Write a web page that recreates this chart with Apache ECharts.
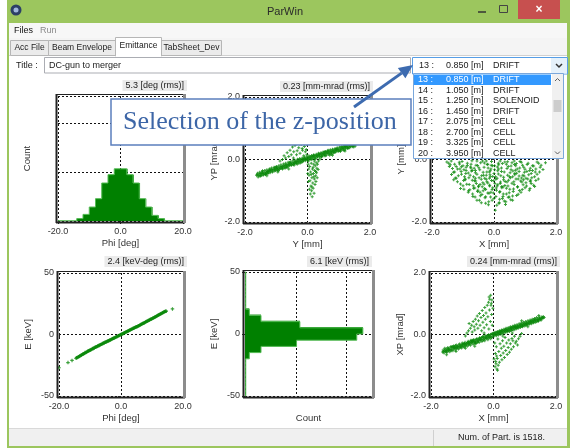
<!DOCTYPE html>
<html>
<head>
<meta charset="utf-8">
<title>ParWin</title>
<script src="https://cdn.jsdelivr.net/npm/echarts@6/dist/echarts.min.js"></script>
<style>
html,body{margin:0;padding:0;background:#ffffff;}
#main{width:570px;height:448px;}
</style>
</head>
<body>
<div id="main"></div>
<script>
// ---------- particle distribution data ----------
// Phase histogram: bin edges [deg] and counts
const phiEdges = [-20,-18,-16,-14,-12,-10,-8,-6,-4,-2,0,2,4,6,8,10,12,14,16,18,20];
const phiCounts = [1,1,1,10,27,57,91,155,189,213,213,189,155,91,57,23,10,1,1,1];

// Energy histogram: bin edges [keV] and counts
const eEdges = [-50,-45,-40,-35,-30,-25,-20,-15,-10,-5,0,5,10,15,20,25,30,35,40,45,50];
const eCounts = [3,3,3,3,3,3,17,63,203,440,464,216,63,17,3,3,3,3,3,3];

// Y - YP phase space [mm, mrad]
const yypCore = [
[-1.63,-0.5],[-1.6,-0.44],[-1.58,-0.56],[-1.55,-0.47],[-1.53,-0.41],[-1.5,-0.53],[-1.47,-0.45],[-1.45,-0.38],[-1.42,-0.5],[-1.4,-0.43],
[-1.37,-0.35],[-1.35,-0.48],[-1.32,-0.41],[-1.3,-0.33],[-1.27,-0.45],[-1.25,-0.37],[-1.22,-0.3],[-1.2,-0.42],[-1.17,-0.35],[-1.15,-0.27],
[-1.12,-0.4],[-1.1,-0.32],[-1.07,-0.25],[-1.05,-0.37],[-1.02,-0.3],[-1.0,-0.22],[-0.97,-0.34],[-0.95,-0.27],[-0.92,-0.2],[-0.9,-0.32],
[-0.87,-0.24],[-0.85,-0.17],[-0.82,-0.29],[-0.8,-0.22],[-0.77,-0.14],[-0.75,-0.27],[-0.72,-0.19],[-0.7,-0.12],[-0.67,-0.24],[-0.65,-0.17],
[-0.62,-0.09],[-0.6,-0.21],[-0.57,-0.14],[-0.55,-0.07],[-0.52,-0.19],[-0.5,-0.11],[-0.47,-0.04],[-0.45,-0.16],[-0.42,-0.09],[-0.4,-0.02],
[-0.37,-0.13],[-0.35,-0.06],[-0.32,0.01],[-0.3,-0.11],[-0.27,-0.04],[-0.25,0.03],[-0.22,-0.08],[-0.2,-0.01],[-0.17,0.05],[-0.15,-0.06],
[-0.12,0.01],[-0.1,0.07],[-0.07,-0.04],[-0.05,0.03],[-0.02,0.09],[0.0,-0.02],[0.03,0.05],[0.05,0.11],[0.08,0.0],[0.1,0.07],
[0.13,0.13],[0.15,0.02],[0.18,0.09],[0.2,0.15],[0.23,0.04],[0.25,0.11],[0.28,0.17],[0.3,0.06],[0.33,0.13],[0.35,0.2],
[0.38,0.08],[0.4,0.15],[0.43,0.22],[0.45,0.1],[0.48,0.17],[0.5,0.24],[0.53,0.12],[0.55,0.19],[0.58,0.26],[0.6,0.14],
[0.63,0.22],[0.65,0.28],[0.68,0.17],[0.7,0.24],[0.73,0.31],[0.75,0.19],[0.78,0.26],[0.8,0.33],[0.83,0.21],[0.85,0.29],
[0.88,0.35],[0.9,0.24],[0.93,0.31],[0.95,0.38],[0.98,0.26],[1.0,0.33],[1.03,0.4],[1.05,0.29],[1.08,0.36],[1.1,0.42],
[1.13,0.31],[1.15,0.38],[1.18,0.45],[1.2,0.33],[1.23,0.41],[1.25,0.47],[1.28,0.36],[1.3,0.43],[1.33,0.49],[1.35,0.38],
[1.38,0.46],[1.4,0.52],[1.43,0.41],[1.45,0.48],[1.48,0.44],[1.5,0.5],[1.53,0.43],
[-1.61,-0.49],[-1.56,-0.52],[-1.51,-0.45],[-1.48,-0.5],[-1.44,-0.43],[-1.41,-0.47],[-1.36,-0.42],[-1.33,-0.45],[-1.29,-0.38],[-1.26,-0.42],
[-1.21,-0.35],[-1.18,-0.39],[-1.14,-0.32],[-1.11,-0.37],[-1.06,-0.3],[-1.03,-0.35],[-0.99,-0.28],[-0.96,-0.31],[-0.91,-0.26],[-0.88,-0.29],
[-0.84,-0.22],[-0.81,-0.26],[-0.76,-0.2],[-0.73,-0.24],[-0.69,-0.17],[-0.66,-0.21],[-0.61,-0.15],[-0.58,-0.18],[-0.54,-0.12],[-0.51,-0.16],
[-0.46,-0.1],[-0.43,-0.13],[-0.39,-0.07],[-0.36,-0.1],[-0.31,-0.05],[-0.28,-0.08],[-0.24,-0.01],[-0.21,-0.05],[-0.16,0.01],[-0.13,-0.02],
[-0.09,0.03],[-0.06,0.0],[-0.01,0.05],[0.02,0.02],[0.06,0.08],[0.09,0.04],[0.14,0.1],[0.17,0.06],[0.21,0.12],[0.24,0.08],
[0.29,0.14],[0.32,0.1],[0.36,0.17],[0.39,0.12],[0.44,0.19],[0.47,0.14],[0.51,0.21],[0.54,0.16],[0.59,0.23],[0.62,0.19],
[0.66,0.25],[0.69,0.21],[0.74,0.27],[0.77,0.23],[0.81,0.3],[0.84,0.25],[0.89,0.32],[0.92,0.28],[0.96,0.34],[0.99,0.3],
[1.04,0.37],[1.07,0.32],[1.11,0.39],[1.14,0.35],[1.19,0.41],[1.22,0.37],[1.26,0.44],[1.29,0.39],[1.34,0.46],[1.37,0.42],
[1.41,0.48],[1.44,0.44],[1.49,0.47],[1.52,0.49],[-1.3,-0.52],[-0.95,-0.4],[-0.6,-0.3],[0.4,0.02],[0.8,0.14],[1.2,0.27],
[-1.34,-0.47],[-0.71,-0.27],[0.57,0.12],[1.21,0.41],[-1.05,-0.26],[0.12,0.0],[0.93,0.33],[-0.43,-0.18],[-1.52,-0.52],[0.38,0.17],
[1.42,0.51],[-0.18,-0.09],[0.76,0.17],[-0.93,-0.36],[-1.2,-0.31],[1.05,0.26],[0.25,0.02],[-0.57,-0.1],[-0.33,-0.15],[0.66,0.3],
[1.3,0.36],[-1.44,-0.36],[0.03,-0.05],[-0.8,-0.3],[0.45,0.08],[0.87,0.23],[-0.12,-0.01],[1.17,0.29],[-0.65,-0.25],[-1.27,-0.38],
[0.19,0.13],[0.55,0.25],[-0.24,-0.12],[1.48,0.4],[-0.99,-0.24],[0.71,0.14]
];
const yypTail = [
[0.02,-0.15],[0.04,-0.3],[0.05,-0.5],[0.07,-0.22],[0.08,-0.68],[0.1,-0.4],[0.11,-0.85],[0.12,-0.12],[0.13,-1.0],[0.14,-0.58],
[0.15,-1.19],[0.16,-0.3],[0.17,-0.75],[0.18,-0.92],[0.19,-0.45],[0.2,-0.15],[0.21,-1.08],[0.22,-0.62],[0.23,-0.35],[0.24,-0.8],
[0.25,-0.2],[0.26,-0.52],[0.27,-0.7],[0.28,-0.1],[0.29,-0.42],[0.3,-0.28],[0.31,-0.58],[0.32,-0.15],[0.06,-0.95],[0.09,-1.1],
[0.03,-0.7],[0.12,-0.48],[0.18,-0.25],[0.22,-0.05],[0.26,-0.38],[0.01,-0.45],[0.35,-0.05],[0.34,-0.32],[0.14,-0.88],[0.2,-0.55],
[-0.02,0.15],[-0.04,0.32],[-0.05,0.55],[-0.07,0.25],[-0.08,0.72],[-0.1,0.42],[-0.11,0.9],[-0.12,0.12],[-0.13,1.05],[-0.14,0.6],
[-0.15,1.2],[-0.16,0.3],[-0.18,0.78],[-0.2,0.48],[-0.22,0.95],[-0.24,0.2],[-0.26,0.65],[-0.28,0.38],[-0.3,0.82],[-0.33,0.28],
[-0.36,0.55],[-0.4,0.45],[-0.44,0.25],[-0.48,0.4],[-0.52,0.15],[-0.56,0.3],[-0.6,0.1],[-0.65,0.22],[-0.7,0.05],[-0.75,0.12],
[-0.8,0.0],[-0.88,-0.05],[-0.05,0.85],[-0.09,1.12],[-0.17,0.35],[-0.25,0.5],[-0.35,0.15],[-0.45,0.05],[-0.02,0.48],[-0.19,0.62]
];

// X - Y beam cross section [mm]
const xyPoints = [
[-1.52,-0.08],[-1.44,-0.22],[-1.38,-0.05],[-1.31,-0.41],[-1.27,-0.15],[-1.22,-0.6],[-1.18,-0.3],[-1.12,-0.09],[-1.08,-0.78],[-1.05,-0.47],
[-1.0,-0.2],[-0.97,-0.95],[-0.93,-0.62],[-0.9,-0.35],[-0.86,-0.12],[-0.83,-1.05],[-0.8,-0.8],[-0.77,-0.5],[-0.74,-0.27],[-0.71,-0.04],
[-0.68,-1.18],[-0.66,-0.92],[-0.63,-0.68],[-0.6,-0.42],[-0.58,-0.18],[-0.55,-1.3],[-0.53,-1.02],[-0.5,-0.85],[-0.48,-0.58],[-0.46,-0.33],
[-0.43,-0.1],[-0.41,-1.38],[-0.39,-1.12],[-0.36,-0.74],[-0.34,-0.5],[-0.32,-0.25],[-0.29,-1.22],[-0.27,-0.96],[-0.25,-0.63],[-0.23,-0.4],
[-0.2,-0.15],[-0.18,-1.45],[-0.16,-1.08],[-0.14,-0.82],[-0.12,-0.55],[-0.1,-0.3],[-0.08,-0.06],[-0.06,-1.3],[-0.04,-0.9],[-0.02,-0.68],
[0.0,-0.45],[0.02,-0.2],[0.04,-1.62],[0.06,-1.18],[0.08,-0.98],[0.1,-0.6],[0.12,-0.36],[0.14,-0.12],[0.16,-1.4],[0.18,-1.05],
[0.2,-0.77],[0.22,-0.52],[0.24,-0.27],[0.27,-1.25],[0.29,-0.88],[0.31,-0.65],[0.33,-0.4],[0.35,-0.08],[0.38,-1.35],[0.4,-1.1],
[0.42,-0.72],[0.44,-0.5],[0.46,-0.22],[0.49,-1.2],[0.51,-0.95],[0.53,-0.58],[0.55,-0.33],[0.58,-0.1],[0.6,-1.3],[0.62,-1.02],
[0.65,-0.8],[0.67,-0.45],[0.7,-0.2],[0.73,-1.15],[0.76,-0.88],[0.78,-0.62],[0.81,-0.38],[0.84,-0.06],[0.87,-1.05],[0.9,-0.72],
[0.93,-0.5],[0.96,-0.25],[1.0,-0.9],[1.03,-0.6],[1.06,-0.38],[1.1,-0.12],[1.14,-0.98],[1.17,-0.7],[1.2,-0.45],[1.24,-0.2],
[1.28,-0.82],[1.31,-0.55],[1.35,-0.3],[1.39,-0.08],[1.43,-0.62],[1.47,-0.4],[1.52,-0.18],[1.58,-0.32],[1.66,-0.1],
[-0.3,-0.6],[-0.15,-0.4],[0.05,-0.55],[0.15,-0.3],[-0.05,-0.2],[0.25,-0.9],[-0.2,-0.75],[0.1,-0.85],[-0.45,-0.8],[0.45,-0.85],
[-0.6,-0.6],[0.6,-0.55],[-0.1,-1.05],[0.3,-1.1],[-0.35,-1.0],[0.0,-1.25],[-0.7,-0.35],[0.75,-0.3],[-0.95,-0.55],[0.95,-0.65],
[-1.1,-0.3],[1.15,-0.35],[-0.25,-0.05],[0.4,-0.15],[-0.55,-0.05],[0.65,-0.05],[0.2,-0.05],[-0.9,-0.25],
[-1.41,-0.17],[-0.62,-0.91],[0.73,-0.44],[0.18,-1.27],[-0.97,-0.33],[1.22,-0.58],[0.44,-0.07],[-0.27,-1.19],[0.91,-0.96],[-1.18,-0.71],
[0.06,-0.63],[-0.49,-0.26],[1.49,-0.25],[-0.81,-0.58],[0.37,-1.44],[-0.13,-0.49],[1.07,-0.16],[-0.38,-0.87],[0.58,-0.76],[-1.03,-0.06],
[0.24,-0.38],[-0.69,-1.1],[0.83,-0.27],[-0.06,-0.96],[1.31,-0.86],[-1.27,-0.4],[0.49,-1.06],[-0.31,-0.11],[0.12,-0.81],[-0.88,-0.79],
[0.66,-0.16],[-0.55,-0.47],[1.16,-0.93],[-0.17,-1.35],[0.31,-0.57],[-1.34,-0.29],[0.97,-0.53],[-0.44,-1.16],[0.02,-0.33],[-0.74,-0.15],
[0.54,-1.29],[-0.23,-0.71],[1.39,-0.47],[-1.08,-0.93],[0.42,-0.29],[-0.59,-0.69],[0.78,-1.11],[-0.09,-0.18],[0.19,-1.02],[-0.91,-0.45],
[1.03,-0.74],[-0.35,-0.41],[0.63,-0.94],[-1.46,-0.12],[0.27,-0.13],[-0.67,-0.84],[0.88,-0.09],[-0.14,-0.85],[1.24,-0.35],[-0.82,-1.0],
[0.09,-1.46],[-0.52,-0.98],[0.71,-0.62],[-1.15,-0.52],[0.35,-0.83],[-0.04,-0.54],[1.12,-0.49],[-0.73,-0.37],[0.52,-0.42],[-0.3,-0.93],
[0.94,-0.81],[-1.22,-0.22],[0.15,-0.17],[-0.47,-1.3],[1.35,-0.67],[-0.98,-0.67],[0.6,-1.17],[-0.19,-0.27],[0.81,-0.53],[-0.64,-0.28],
[0.29,-1.18],[-1.37,-0.48],[1.0,-0.31],[-0.41,-0.63],[0.47,-0.66],[-0.11,-1.2],[0.69,-0.34],[-0.86,-0.19],[1.2,-0.77],[-0.57,-0.77],
[0.21,-0.72],[-1.0,-0.84],[0.86,-0.69],[-0.25,-0.5],[1.44,-0.12],[-0.78,-0.97],[0.4,-0.92],[0.03,-0.77],[-0.66,-0.55],[1.09,-0.62],
[-0.37,-0.05],[0.76,-0.87],[-1.11,-0.14],[0.55,-0.21],[-0.2,-1.07],[0.98,-0.41],[-0.53,-0.19],[0.14,-0.46],[-0.93,-0.65],[1.28,-0.21],
[-0.08,-0.67],[0.33,-1.33],[-0.7,-0.66],[0.67,-0.49],[-0.45,-1.05],[1.17,-0.28],[-1.25,-0.59],[0.25,-0.86],[-0.02,-1.07],[0.89,-0.59],
[-0.6,-0.35],[0.46,-1.21],[-1.06,-0.38],[0.72,-0.13],[-0.32,-0.79],[0.11,-0.24],[-0.83,-0.43],[1.05,-0.85],[-0.15,-0.6],[0.61,-0.37],
[-0.5,-0.87],[0.36,-0.7],[-1.3,-0.65],[0.92,-0.18],[-0.27,-1.4],[0.17,-1.38],[-0.76,-0.24],[1.33,-0.4],[-0.4,-0.52],[0.5,-0.55],
[-0.12,-0.36],[0.82,-0.99],[-1.05,-0.23],[0.07,-0.91],[-0.61,-1.2],[1.18,-0.66],[-0.22,-0.16],[0.64,-0.71],
[-1.45,0.3],[-1.2,0.7],[-0.9,1.05],[-0.5,1.35],[0.0,1.55],[0.5,1.3],[0.95,1.1],[1.3,0.75],[1.55,0.35],[-1.0,0.4],
[-0.6,0.7],[-0.2,0.95],[0.3,0.85],[0.7,0.6],[1.1,0.3],[-0.7,0.2],[-0.3,0.45],[0.1,0.3],[0.5,0.2],[0.9,0.15],
[-0.1,0.65],[0.2,1.15],[-0.4,1.1],[0.8,0.95],[-1.25,0.15],[1.35,0.1],[0.05,0.1],[-0.5,0.1],[0.35,0.5],[-0.75,0.5]
];

// Phi - E longitudinal phase space [deg, keV]
const phiEPoints = [
[-20,-27],[-17.1,-22.8],[-15.8,-21.1],[-14.5,-19.4],[-14.1,-18.6],[-13.6,-18.1],[-13.2,-17.2],[-12.8,-16.9],[-12.4,-16.0],[-12.0,-15.6],
[-11.6,-14.7],[-11.2,-14.5],[-10.8,-13.6],[-10.4,-13.3],[-10.0,-12.5],[-9.6,-12.2],[-9.2,-11.4],[-8.8,-11.1],[-8.4,-10.3],[-8.0,-10.0],
[-7.6,-9.3],[-7.2,-9.0],[-6.8,-8.3],[-6.4,-8.0],[-6.0,-7.3],[-5.6,-7.0],[-5.2,-6.3],[-4.8,-6.0],[-4.4,-5.3],[-4.0,-5.0],
[-3.6,-4.4],[-3.2,-4.0],[-2.8,-3.5],[-2.4,-3.0],[-2.0,-2.6],[-1.6,-2.0],[-1.2,-1.6],[-0.8,-1.0],[-0.4,-0.6],[0,0],
[0.4,0.4],[0.8,1.1],[1.2,1.4],[1.6,2.1],[2.0,2.4],[2.4,3.1],[2.8,3.4],[3.2,4.1],[3.6,4.4],[4.0,5.1],
[4.4,5.4],[4.8,6.1],[5.2,6.4],[5.6,7.1],[6.0,7.5],[6.4,8.1],[6.8,8.6],[7.2,9.2],[7.6,9.6],[8.0,10.3],
[8.4,10.7],[8.8,11.3],[9.2,11.8],[9.6,12.3],[10.0,12.9],[10.4,13.4],[10.8,14.0],[11.2,14.5],[11.6,15.1],[12.0,15.7],
[12.4,16.2],[12.8,16.8],[13.2,17.3],[13.6,17.9],[14.0,18.4],[14.4,18.9],[16.6,20.8],
[-14.3,-18.9],[-13.8,-18.2],[-13.4,-17.6],[-13.0,-17.0],[-12.6,-16.5],[-12.2,-15.9],[-11.8,-15.3],[-11.4,-14.8],[-11.0,-14.2],[-10.6,-13.6],
[-10.2,-13.1],[-9.8,-12.5],[-9.4,-12.0],[-9.0,-11.5],[-8.6,-10.9],[-8.2,-10.4],[-7.8,-9.9],[-7.4,-9.4],[-7.0,-8.9],[-6.6,-8.4],
[-6.2,-7.9],[-5.8,-7.4],[-5.4,-6.9],[-5.0,-6.4],[-4.6,-5.9],[-4.2,-5.4],[-3.8,-4.9],[-3.4,-4.4],[-3.0,-3.9],[-2.6,-3.3],
[-2.2,-2.8],[-1.8,-2.3],[-1.4,-1.8],[-1.0,-1.3],[-0.6,-0.8],[-0.2,-0.3],[0.2,0.3],[0.6,0.7],[1.0,1.2],[1.4,1.8],
[1.8,2.2],[2.2,2.8],[2.6,3.2],[3.0,3.8],[3.4,4.2],[3.8,4.8],[4.2,5.2],[4.6,5.8],[5.0,6.2],[5.4,6.8],
[5.8,7.2],[6.2,7.8],[6.6,8.3],[7.0,8.9],[7.4,9.4],[7.8,9.9],[8.2,10.5],[8.6,11.0],[9.0,11.6],[9.4,12.1],
[9.8,12.6],[10.2,13.2],[10.6,13.7],[11.0,14.3],[11.4,14.8],[11.8,15.4],[12.2,16.0],[12.6,16.5],[13.0,17.1],[13.4,17.6],
[13.8,18.2],[14.2,18.6],[14.6,19.0]
];

// X - XP phase space [mm, mrad]
const xxpCore = [
[-1.63,-0.57],[-1.61,-0.5],[-1.58,-0.6],[-1.56,-0.45],[-1.54,-0.55],[-1.51,-0.5],[-1.49,-0.58],[-1.47,-0.43],[-1.44,-0.52],[-1.42,-0.47],
[-1.4,-0.56],[-1.37,-0.4],[-1.35,-0.5],[-1.33,-0.44],[-1.3,-0.53],[-1.28,-0.37],[-1.26,-0.46],[-1.23,-0.41],[-1.21,-0.5],[-1.19,-0.34],
[-1.16,-0.43],[-1.14,-0.38],[-1.12,-0.47],[-1.09,-0.31],[-1.07,-0.4],[-1.05,-0.35],[-1.02,-0.44],[-1.0,-0.28],[-0.98,-0.37],[-0.95,-0.32],
[-0.93,-0.41],[-0.91,-0.25],[-0.88,-0.34],[-0.86,-0.29],[-0.84,-0.38],[-0.81,-0.22],[-0.79,-0.31],[-0.77,-0.26],[-0.74,-0.35],[-0.72,-0.19],
[-0.7,-0.28],[-0.67,-0.23],[-0.65,-0.32],[-0.63,-0.16],[-0.6,-0.25],[-0.58,-0.2],[-0.56,-0.29],[-0.53,-0.13],[-0.51,-0.22],[-0.49,-0.17],
[-0.46,-0.26],[-0.44,-0.1],[-0.42,-0.19],[-0.39,-0.14],[-0.37,-0.23],[-0.35,-0.07],[-0.32,-0.16],[-0.3,-0.11],[-0.28,-0.2],[-0.25,-0.04],
[-0.23,-0.13],[-0.21,-0.08],[-0.18,-0.17],[-0.16,-0.01],[-0.14,-0.1],[-0.11,-0.05],[-0.09,-0.14],[-0.07,0.02],[-0.04,-0.07],[-0.02,-0.02],
[0.0,0.04],[0.02,-0.05],[0.05,0.07],[0.07,0.0],[0.09,-0.04],[0.12,0.1],[0.14,0.03],[0.16,-0.02],[0.19,0.12],[0.21,0.06],
[0.23,0.01],[0.26,0.15],[0.28,0.08],[0.3,0.03],[0.33,0.17],[0.35,0.11],[0.37,0.06],[0.4,0.2],[0.42,0.13],[0.44,0.08],
[0.47,0.22],[0.49,0.16],[0.51,0.1],[0.54,0.25],[0.56,0.18],[0.58,0.13],[0.61,0.27],[0.63,0.21],[0.65,0.15],[0.68,0.3],
[0.7,0.23],[0.72,0.18],[0.75,0.32],[0.77,0.26],[0.79,0.2],[0.82,0.35],[0.84,0.28],[0.86,0.23],[0.89,0.37],[0.91,0.31],
[0.93,0.25],[0.96,0.4],[0.98,0.33],[1.0,0.28],[1.03,0.42],[1.05,0.36],[1.07,0.3],[1.1,0.45],[1.12,0.38],[1.14,0.33],
[1.17,0.47],[1.19,0.41],[1.21,0.35],[1.24,0.5],[1.26,0.43],[1.28,0.38],[1.31,0.52],[1.33,0.46],[1.35,0.4],[1.38,0.55],
[1.4,0.48],[1.43,0.43],[1.46,0.56],[1.49,0.5],[1.52,0.46],[1.55,0.58],[1.58,0.52],[1.62,0.55],
[-1.6,-0.56],[-1.57,-0.52],[-1.52,-0.47],[-1.5,-0.56],[-1.46,-0.5],[-1.43,-0.44],[-1.39,-0.49],[-1.36,-0.53],[-1.32,-0.39],[-1.29,-0.47],
[-1.25,-0.42],[-1.22,-0.36],[-1.18,-0.45],[-1.15,-0.39],[-1.11,-0.34],[-1.08,-0.43],[-1.04,-0.37],[-1.01,-0.32],[-0.97,-0.4],[-0.94,-0.29],
[-0.9,-0.36],[-0.87,-0.31],[-0.83,-0.26],[-0.8,-0.33],[-0.76,-0.3],[-0.73,-0.22],[-0.69,-0.27],[-0.66,-0.19],[-0.62,-0.24],[-0.59,-0.3],
[-0.55,-0.16],[-0.52,-0.25],[-0.48,-0.2],[-0.45,-0.13],[-0.41,-0.16],[-0.38,-0.1],[-0.34,-0.19],[-0.31,-0.06],[-0.27,-0.14],[-0.24,-0.09],
[-0.2,-0.03],[-0.17,-0.12],[-0.13,-0.06],[-0.1,0.0],[-0.06,-0.1],[-0.03,0.03],[0.01,-0.01],[0.04,0.04],[0.08,0.06],[0.11,0.0],
[0.15,0.08],[0.18,0.04],[0.22,0.1],[0.25,0.05],[0.29,0.13],[0.32,0.09],[0.36,0.15],[0.39,0.1],[0.43,0.18],[0.46,0.12],
[0.5,0.2],[0.53,0.14],[0.57,0.22],[0.6,0.17],[0.64,0.24],[0.67,0.19],[0.71,0.27],[0.74,0.21],[0.78,0.29],[0.81,0.24],
[0.85,0.31],[0.88,0.26],[0.92,0.34],[0.95,0.29],[0.99,0.36],[1.02,0.31],[1.06,0.38],[1.09,0.34],[1.13,0.41],[1.16,0.36],
[1.2,0.43],[1.23,0.38],[1.27,0.45],[1.3,0.41],[1.34,0.48],[1.37,0.43],[1.41,0.5],[1.44,0.46],[1.48,0.53],[1.51,0.5],
[1.54,0.53],[1.57,0.55],[1.6,0.58],[-1.2,-0.55],[-0.9,-0.45],[0.6,0.05],[1.1,0.25],[-0.3,0.05],[0.3,-0.05],[1.45,0.62],
[-1.5,-0.66],[0.9,0.45],[-0.6,-0.38],
[-1.34,-0.41],[-0.71,-0.21],[0.57,0.21],[1.21,0.44],[-1.05,-0.41],[0.12,0.06],[0.93,0.28],[-0.43,-0.16],[-1.52,-0.54],[0.38,0.16],
[1.42,0.44],[-0.18,-0.04],[0.76,0.23],[-0.93,-0.3],[-1.2,-0.44],[1.05,0.33],[0.25,0.11],[-0.57,-0.24],[-0.33,-0.09],[0.66,0.26],
[1.3,0.47],[-1.44,-0.48],[0.03,0.02],[-0.8,-0.25],[0.45,0.14],[0.87,0.32],[-0.12,-0.07],[1.17,0.42],[-0.65,-0.2],[-1.27,-0.41],
[0.19,0.08],[0.55,0.2],[-0.24,-0.1],[1.48,0.52],[-0.99,-0.33],[0.71,0.24]
];
const xxpTail = [
[-0.9,-0.05],[-0.85,0.05],[-0.8,0.12],[-0.78,0.36],[-0.74,0.2],[-0.7,0.3],[-0.68,0.08],[-0.65,0.42],[-0.62,0.25],[-0.6,0.15],
[-0.58,0.5],[-0.55,0.33],[-0.52,0.6],[-0.5,0.2],[-0.48,0.45],[-0.45,0.68],[-0.43,0.3],[-0.4,0.55],[-0.38,0.12],[-0.36,0.78],
[-0.34,0.4],[-0.32,0.62],[-0.3,0.22],[-0.28,0.88],[-0.26,0.5],[-0.24,0.7],[-0.22,0.32],[-0.2,0.95],[-0.18,0.58],[-0.16,1.05],
[-0.15,0.18],[-0.13,0.8],[-0.12,1.15],[-0.1,0.42],[-0.09,1.28],[-0.08,0.95],[-0.06,0.65],[-0.05,1.12],[-0.04,0.3],[-0.02,0.85],
[-0.14,1.22],[-0.07,1.02],
[0.9,0.03],[0.85,-0.06],[0.8,-0.14],[0.77,-0.34],[0.73,-0.22],[0.7,-0.28],[0.67,-0.06],[0.64,-0.4],[0.62,-0.2],[0.59,-0.13],
[0.57,-0.48],[0.54,-0.3],[0.51,-0.58],[0.49,-0.18],[0.47,-0.42],[0.44,-0.65],[0.42,-0.28],[0.39,-0.52],[0.37,-0.1],[0.35,-0.75],
[0.33,-0.38],[0.31,-0.6],[0.29,-0.2],[0.27,-0.82],[0.25,-0.45],[0.23,-0.68],[0.21,-0.3],[0.19,-0.9],[0.17,-0.55],[0.15,-1.0],
[0.14,-0.15],[0.12,-0.78],[0.11,-1.12],[0.09,-0.4],[0.08,-0.95],[0.06,-0.62],[0.05,-1.05],[0.04,-0.28],[0.02,-0.8],[0.13,-1.16],
[0.07,-0.88],[0.1,-0.7]
];

// rms figures shown above each plot
const rmsTexts = ['5.3 [deg (rms)]', '0.23 [mm-mrad (rms)]', null, '2.4 [keV-deg (rms)]', '6.1 [keV (rms)]', '0.24 [mm-mrad (rms)]'];

// Lattice positions listed in the z-position selector
const zIndex = ['13 :','14 :','15 :','16 :','17 :','18 :','19 :','20 :'];
const zPos = ['0.850','1.050','1.250','1.450','2.075','2.700','3.325','3.950'];
const zElem = ['DRIFT','DRIFT','SOLENOID','DRIFT','CELL','CELL','CELL','CELL'];

// ---------- layout ----------
const UI = 'Liberation Sans, Arial, sans-serif';
const GREEN = '#0a880a';
const BAR = '#008000';
const BAR_EDGE = '#55bb55';
const grids = [
  {left: 58,  top: 96,  width: 125, height: 125},
  {left: 245, top: 97,  width: 125, height: 125},
  {left: 432, top: 97,  width: 124, height: 125},
  {left: 59,  top: 273, width: 124, height: 123},
  {left: 245, top: 272, width: 127, height: 124},
  {left: 431, top: 273, width: 125, height: 123}
];
const headerPos = [
  {right: 383, top: 80}, {right: 197, top: 81}, null,
  {right: 383, top: 256}, {right: 198, top: 256}, {right: 10, top: 256}
];

const fix1 = v => v.toFixed(1);
const int0 = v => String(Math.round(v));
const lbl = f => ({show: true, fontSize: 9, color: '#333', fontFamily: UI, margin: 4, formatter: f});

function xAx(gi, o) {
  return Object.assign({
    gridIndex: gi, type: 'value', offset: 2,
    axisLine: {show: false},
    axisTick: {show: true, length: 3, lineStyle: {color: '#222'}},
    axisLabel: lbl(fix1),
    splitLine: {show: true, lineStyle: {type: [2, 2], color: '#111', width: 1}},
    nameLocation: 'middle', nameGap: 15,
    nameTextStyle: {fontSize: 9.5, color: '#333', fontFamily: UI}
  }, o);
}
function yAx(gi, o) {
  return Object.assign({
    gridIndex: gi, type: 'value', offset: 2,
    axisLine: {show: false},
    axisTick: {show: true, length: 3, lineStyle: {color: '#222'}},
    axisLabel: Object.assign(lbl(fix1), {margin: 3}),
    splitLine: {show: true, lineStyle: {type: [2, 2], color: '#111', width: 1}},
    nameLocation: 'middle', nameGap: 24, nameRotate: 90,
    nameTextStyle: {fontSize: 9.5, color: '#333', fontFamily: UI}
  }, o);
}

const xAxes = [
  xAx(0, {min: -20, max: 20, interval: 20, name: 'Phi [deg]'}),
  xAx(1, {min: -2, max: 2, interval: 2, name: 'Y [mm]'}),
  xAx(2, {min: -2, max: 2, interval: 2, name: 'X [mm]'}),
  xAx(3, {min: -20, max: 20, interval: 20, name: 'Phi [deg]'}),
  xAx(4, {min: 0, max: 500, interval: 200, name: 'Count', axisLabel: {show: false}, axisTick: {show: false}}),
  xAx(5, {min: -2, max: 2, interval: 2, name: 'X [mm]'})
];
const yAxes = [
  yAx(0, {min: 0, max: 510, interval: 200, name: 'Count', axisLabel: {show: false}, axisTick: {show: false}}),
  yAx(1, {min: -2, max: 2, interval: 2, name: 'YP [mrad]'}),
  yAx(2, {min: -2, max: 2, interval: 2, name: 'Y [mm]'}),
  yAx(3, {min: -50, max: 50, interval: 50, name: 'E [keV]', axisLabel: Object.assign(lbl(int0), {margin: 3})}),
  yAx(4, {min: -50, max: 50, interval: 50, name: 'E [keV]', axisLabel: Object.assign(lbl(int0), {margin: 3})}),
  yAx(5, {min: -2, max: 2, interval: 2, name: 'XP [mrad]'})
];

// histogram bins: [lowEdge, highEdge, count, previousCount, isLast]
const phiBins = phiCounts.map((c, i) => [phiEdges[i], phiEdges[i + 1], c, i > 0 ? phiCounts[i - 1] : 0, i === phiCounts.length - 1 ? 1 : 0]);
const eBins = eCounts.map((c, i) => [eEdges[i], eEdges[i + 1], c, i > 0 ? eCounts[i - 1] : 0, i === eCounts.length - 1 ? 1 : 0]);

// filled bars (slightly overlapped with the next bin so no seams show);
// horizontal=true means the count runs along x
function barFill(horizontal) {
  return function (params, api) {
    const lo = api.value(0), hi = api.value(1), c = api.value(2), last = api.value(4);
    const pad = last ? 0 : 0.8;
    if (horizontal) {
      const a = api.coord([0, hi]), b = api.coord([c, lo]);
      return {type: 'rect', shape: {x: a[0], y: a[1] - pad, width: b[0] - a[0], height: b[1] - a[1] + pad}, style: {fill: BAR}};
    }
    const a = api.coord([lo, c]), b = api.coord([hi, 0]);
    return {type: 'rect', shape: {x: a[0], y: a[1], width: b[0] - a[0] + pad, height: b[1] - a[1]}, style: {fill: BAR}};
  };
}
// step outline along the outer edge of the bars
function barEdge(horizontal) {
  return function (params, api) {
    const lo = api.value(0), hi = api.value(1), c = api.value(2), prev = api.value(3), last = api.value(4);
    const P = (e, n) => horizontal ? api.coord([n, e]) : api.coord([e, n]);
    const pts = [P(lo, prev), P(lo, c), P(hi, c)];
    if (last) pts.push(P(hi, 0));
    return {type: 'polyline', shape: {points: pts}, style: {stroke: BAR_EDGE, lineWidth: 1, fill: null}};
  };
}

const plusSymbol = 'path://M1 0h1v1h1v1h-1v1h-1v-1h-1v-1h1z';
function scatter(gi, data, size) {
  return {type: 'scatter', xAxisIndex: gi, yAxisIndex: gi, data: data,
    symbol: plusSymbol, symbolSize: size || 3, itemStyle: {color: GREEN}, silent: true, animation: false};
}

const series = [
  {type: 'custom', xAxisIndex: 0, yAxisIndex: 0, data: phiBins, renderItem: barFill(false), encode: {x: [0, 1], y: 2}, silent: true},
  {type: 'custom', xAxisIndex: 0, yAxisIndex: 0, data: phiBins, renderItem: barEdge(false), encode: {x: [0, 1], y: 2}, silent: true, z: 3},
  scatter(1, yypCore), scatter(1, yypTail),
  scatter(2, xyPoints),
  scatter(3, phiEPoints, 3.5),
  {type: 'custom', xAxisIndex: 4, yAxisIndex: 4, data: eBins, renderItem: barFill(true), encode: {x: 2, y: [0, 1]}, silent: true},
  {type: 'custom', xAxisIndex: 4, yAxisIndex: 4, data: eBins, renderItem: barEdge(true), encode: {x: 2, y: [0, 1]}, silent: true, z: 3},
  scatter(5, xxpCore), scatter(5, xxpTail)
];

const titles = [];
rmsTexts.forEach((t, i) => {
  if (!t) return;
  titles.push({text: t, right: headerPos[i].right, top: headerPos[i].top,
    backgroundColor: '#ebebeb', padding: [1, 3, 1, 3],
    textStyle: {fontSize: 9, fontWeight: 'normal', color: '#222', fontFamily: UI}});
});

// ---------- window chrome ----------
const G = [];
function rect(x, y, w, h, style, z) { G.push({type: 'rect', shape: {x: x, y: y, width: w, height: h}, style: style, z: z || 1, silent: true}); }
function line(x1, y1, x2, y2, stroke, lw, z) { G.push({type: 'line', shape: {x1: x1, y1: y1, x2: x2, y2: y2}, style: {stroke: stroke, lineWidth: lw || 1}, z: z || 1, silent: true}); }
function text(x, y, s, o, z) {
  G.push({type: 'text', x: x, y: y, style: Object.assign({text: s, fill: '#1a1a1a', font: '9px ' + UI, textAlign: 'left', textVerticalAlign: 'middle'}, o || {}), z: z || 2, silent: true});
}
function poly(points, stroke, lw, z) { G.push({type: 'polyline', shape: {points: points}, style: {stroke: stroke, lineWidth: lw, fill: null}, z: z || 1, silent: true}); }

const FRAME = '#9cc65e';
// title bar and frame
rect(7, 0, 563, 23, {fill: FRAME});
rect(7, 0, 2, 448, {fill: FRAME});
rect(7, 446, 563, 2, {fill: FRAME});
rect(567, 0, 3, 448, {fill: FRAME});
G.push({type: 'circle', shape: {cx: 16, cy: 10, r: 5.5}, style: {fill: '#2b3f66'}, z: 2, silent: true});
G.push({type: 'circle', shape: {cx: 16, cy: 10, r: 2.5}, style: {fill: '#9fb7dc'}, z: 3, silent: true});
text(285, 12, 'ParWin', {font: '11px ' + UI, textAlign: 'center', fill: '#2a2a2a'});
line(478, 12, 486, 12, '#333', 1.5);
rect(499.5, 5.5, 8, 7, {fill: null, stroke: '#444', lineWidth: 1});
rect(518, 0, 42, 19, {fill: '#c7504f'});
text(539, 9.5, '×', {font: 'bold 12px ' + UI, textAlign: 'center', fill: '#ffffff'});
// menu bar
rect(9, 23, 558, 15, {fill: '#f7f7f7'});
text(14, 31, 'Files', {fill: '#111'});
text(40, 31, 'Run', {fill: '#8a8a8a'});
// tabs
rect(9, 38, 558, 17, {fill: '#f4f4f4'});
line(9, 55.5, 567, 55.5, '#d0d0d0', 1);
[[10, 38, 'Acc File'], [48, 67, 'Beam Envelope'], [161, 60, 'TabSheet_Dev']].forEach(t => {
  rect(t[0] + 0.5, 40.5, t[1], 15, {fill: '#ebebeb', stroke: '#b6b6b6', lineWidth: 1});
  text(t[0] + t[1] / 2 + 0.5, 48, t[2], {textAlign: 'center', fill: '#1a1a1a', font: '8.5px ' + UI});
});
rect(115.5, 37.5, 46, 18.5, {fill: '#ffffff', stroke: '#b6b6b6', lineWidth: 1});
rect(116, 55, 45, 2, {fill: '#ffffff'});
text(138.5, 46, 'Emittance', {textAlign: 'center', fill: '#1a1a1a', font: '8.5px ' + UI});
// title field
text(16, 65.5, 'Title :', {fill: '#1a1a1a'});
rect(44.5, 57.5, 366, 15.5, {fill: '#ffffff', stroke: '#abadb3', lineWidth: 1});
text(49, 65.5, 'DC-gun to merger', {fill: '#1a1a1a'});
// status bar
rect(9, 428, 558, 18, {fill: '#f0f0f0'});
line(9, 428.5, 567, 428.5, '#d9d9d9', 1);
line(433.5, 430, 433.5, 446, '#d0d0d0', 1);
text(458, 438, 'Num. of Part. is 1518.', {fill: '#1a1a1a'});

// plot frames
grids.forEach(g => {
  const x0 = g.left - 2, y0 = g.top - 2, x1 = g.left + g.width + 2, y1 = g.top + g.height + 2;
  line(x0, y0 + 0.5, x1, y0 + 0.5, '#222', 1, 5);
  line(x0 + 0.5, y0, x0 + 0.5, y1, '#222', 2, 5);
  line(x0, y1 - 0.5, x1, y1 - 0.5, '#222', 2, 5);
  line(x1 - 0.5, y0, x1 - 0.5, y1, '#8c8c8c', 3, 5);
});

// callout
rect(111, 99, 300, 46, {fill: '#ffffff', stroke: '#5b7fbd', lineWidth: 1.5}, 60);
text(123, 122.5, 'Selection of the z-position', {font: '26px Liberation Serif, Times New Roman, serif', fill: '#3d66a7'}, 61);
line(354, 107, 401.6, 73.1, '#3d6bb0', 3, 62);
G.push({type: 'polygon', shape: {points: [[413, 65], [405.4, 78.2], [397.8, 68.0]]}, style: {fill: '#3d6bb0'}, z: 62, silent: true});

// z-position selector
rect(412.5, 57.5, 155, 16.5, {fill: '#ffffff', stroke: '#569de5', lineWidth: 1}, 60);
rect(551, 58, 16, 15.5, {fill: '#e5f1fb'}, 60);
poly([[556, 64], [559, 67], [562, 64]], '#333', 1.5, 61);
text(419, 66, zIndex[0], {}, 61);
text(446, 66, zPos[0] + ' [m]', {}, 61);
text(493, 66, zElem[0], {}, 61);
rect(413.5, 73.5, 150, 85, {fill: '#ffffff', stroke: '#7aa7db', lineWidth: 1}, 60);
rect(414, 74.5, 137, 10.5, {fill: '#3399ff'}, 61);
zIndex.forEach((s, i) => {
  const yc = 79.8 + i * 10.5;
  const col = i === 0 ? '#ffffff' : '#1a1a1a';
  text(418, yc, s, {fill: col}, 62);
  text(446, yc, zPos[i] + ' [m]', {fill: col}, 62);
  text(493, yc, zElem[i], {fill: col}, 62);
});
rect(552, 74, 11, 84, {fill: '#f0f0f0'}, 61);
rect(553.5, 100, 8, 12, {fill: '#cdcdcd'}, 62);
poly([[555, 81], [557.5, 78.5], [560, 81]], '#606060', 1, 62);
poly([[555, 151.5], [557.5, 154], [560, 151.5]], '#606060', 1, 62);

const chart = echarts.init(document.getElementById('main'), null, {renderer: 'canvas', width: 570, height: 448});
chart.setOption({
  animation: false,
  backgroundColor: '#ffffff',
  title: titles,
  grid: grids.map(g => Object.assign({containLabel: false}, g)),
  xAxis: xAxes,
  yAxis: yAxes,
  series: series,
  graphic: {elements: G}
});
</script>
</body>
</html>
